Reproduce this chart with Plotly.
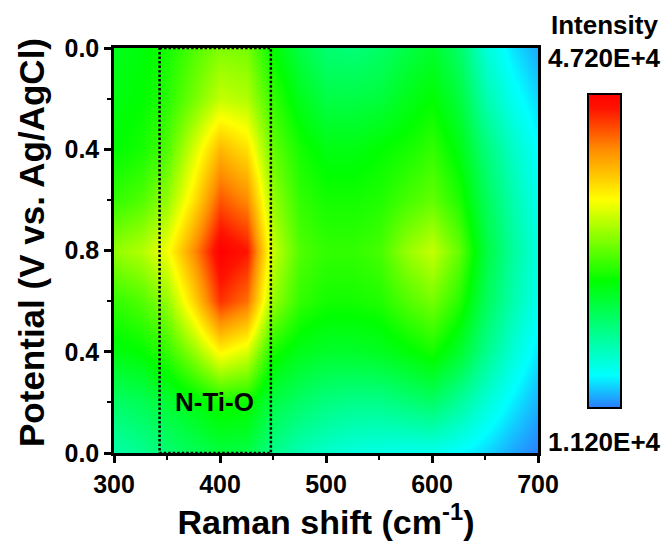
import plotly.graph_objects as go

# Raman shift columns (cm^-1)
raman_shift = [300, 325, 350, 375, 400, 425, 450, 475, 500, 525, 550, 575, 600, 625, 650, 675, 700]
# Scan position rows (0 -> 0.8 V -> back to 0 V), plotted top to bottom
scan_index = [0.0, 0.2, 0.4, 0.6, 0.8, 1.0, 1.2, 1.4, 1.6]
y_tick_vals = [0.0, 0.4, 0.8, 1.2, 1.6]
y_tick_text = ["0.0", "0.4", "0.8", "0.4", "0.0"]
x_tick_vals = [300, 400, 500, 600, 700]

# Intensity rows (counts), one list per scan row
row_00 = [24500, 25200, 26300, 28500, 30300, 29900, 25600, 22700, 20900, 20600, 21300, 22700, 23800, 21300, 16600, 14100, 12300]
row_02 = [24900, 25600, 27000, 29900, 32800, 32100, 27400, 24500, 22700, 22700, 23100, 24500, 25600, 23100, 18400, 15500, 13700]
row_04 = [25600, 26300, 28500, 33500, 38600, 36400, 29200, 26300, 24900, 24900, 25600, 26300, 27400, 24900, 20600, 17300, 14800]
row_06 = [27400, 28500, 31000, 36400, 42900, 40700, 31000, 27400, 26300, 26300, 26700, 28100, 29200, 26700, 22000, 18400, 15500]
row_08 = [31000, 32100, 34600, 40700, 47200, 45400, 32800, 28500, 27400, 27400, 28100, 31000, 32800, 29200, 23100, 19100, 16200]
row_10 = [27400, 28500, 31000, 37100, 44300, 41800, 31000, 27400, 26300, 26300, 26700, 28500, 29900, 27000, 22000, 18400, 15500]
row_12 = [24900, 25600, 27400, 31000, 35300, 33500, 26300, 24500, 23800, 23800, 24200, 25200, 26300, 23800, 19800, 16600, 14100]
row_14 = [21300, 22000, 23400, 24900, 26300, 26000, 22700, 21300, 20200, 19800, 19800, 20600, 21300, 19100, 16600, 14400, 12600]
row_16 = [18400, 19500, 20900, 22000, 23100, 22700, 19800, 18000, 17000, 16200, 15900, 15500, 15500, 14800, 13700, 12300, 11200]

z_min = 11200
z_max = 47200
band_x = [343, 448]
band_label = "N-Ti-O"

z = [row_00, row_02, row_04, row_06, row_08, row_10, row_12, row_14, row_16]

colorscale = [
    [0.0, "#2a80ff"],
    [0.10, "#00ffff"],
    [0.40, "#00ff00"],
    [0.66, "#ffff00"],
    [0.82, "#ff8c00"],
    [0.95, "#ff1400"],
    [1.0, "#ff0000"],
]

FONT = "Liberation Sans, Arial, sans-serif"
L, R, T, B = 114, 538, 48, 453
W, H = 667, 542


def px_x(p):
    return (p - L) / (R - L)


def px_y(p):
    return (B - p) / (B - T)


fig = go.Figure()
fig.add_trace(go.Heatmap(
    x=raman_shift, y=scan_index, z=z,
    zmin=z_min, zmax=z_max, zsmooth="best",
    colorscale=colorscale,
    colorbar=dict(
        x=px_x(588), xanchor="left", y=px_y(250.5), yanchor="middle",
        lenmode="pixels", len=314, thickness=33,
        outlinecolor="black", outlinewidth=2,
        showticklabels=False, ticks="", xpad=0, ypad=0,
    ),
))

fig.add_shape(type="rect", xref="x", yref="y",
              x0=band_x[0], x1=band_x[1], y0=scan_index[0], y1=scan_index[-1],
              line=dict(color="black", width=2.5, dash="2.5px,2px"))

fig.add_annotation(x=sum(band_x) / 2 - 1, y=1.40, xref="x", yref="y", text=band_label,
                   showarrow=False, font=dict(family=FONT, size=26, color="black", weight="bold"))

cb_font = dict(family=FONT, size=26, color="black", weight="bold")
fig.add_annotation(x=px_x(604), y=px_y(25), xref="paper", yref="paper", text="Intensity",
                   showarrow=False, xanchor="center", yanchor="middle", font=cb_font)
fig.add_annotation(x=px_x(604), y=px_y(58), xref="paper", yref="paper",
                   text="%.3fE+4" % (z_max / 1e4),
                   showarrow=False, xanchor="center", yanchor="middle", font=cb_font)
fig.add_annotation(x=px_x(604), y=px_y(442), xref="paper", yref="paper",
                   text="%.3fE+4" % (z_min / 1e4),
                   showarrow=False, xanchor="center", yanchor="middle", font=cb_font)

# y-axis title as rotated annotation
fig.add_annotation(x=px_x(31), y=px_y(243), xref="paper", yref="paper",
                   text="Potential (V vs. Ag/AgCl)", textangle=-90, showarrow=False,
                   xanchor="center", yanchor="middle",
                   font=dict(family=FONT, size=35, color="black", weight="bold"))

fig.update_xaxes(
    range=[300, 700], tickvals=x_tick_vals, ticks="outside", ticklen=7, tickwidth=2.5,
    tickcolor="black", showline=True, linecolor="black", linewidth=2.5, mirror=True,
    showgrid=False, zeroline=False,
    minor=dict(dtick=50, tick0=300, ticks="outside", ticklen=4, tickwidth=2, tickcolor="black"),
    tickfont=dict(family=FONT, size=25, color="black", weight="bold"),
    title=dict(text="Raman shift (cm<sup>-1</sup>)", standoff=11,
               font=dict(family=FONT, size=34, color="black", weight="bold")),
)
fig.update_yaxes(
    range=[1.6, 0], tickvals=y_tick_vals, ticktext=y_tick_text, ticks="outside", ticklen=7,
    tickwidth=2.5, tickcolor="black", showline=True, linecolor="black", linewidth=2.5, mirror=True,
    showgrid=False, zeroline=False,
    minor=dict(dtick=0.2, tick0=0, ticks="outside", ticklen=4, tickwidth=2, tickcolor="black"),
    tickfont=dict(family=FONT, size=25, color="black", weight="bold"),
)

fig.update_layout(
    width=W, height=H,
    margin=dict(l=L, r=W - R, t=T, b=H - B, autoexpand=False),
    paper_bgcolor="white", plot_bgcolor="white",
    showlegend=False,
)

fig.write_html("out.html")
